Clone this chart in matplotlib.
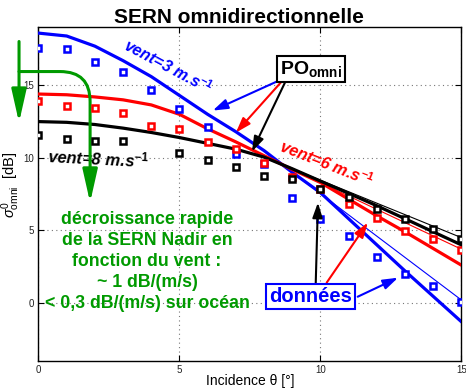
"""
SERN omnidirectionnelle: modele PO_omni (traits) et donnees (carres)
pour trois vitesses de vent.
"""
import matplotlib
matplotlib.use('Agg')
import matplotlib.pyplot as plt
import numpy as np

plt.rcParams.update({
    'font.family': ['Liberation Sans', 'DejaVu Sans'],
    'mathtext.fontset': 'custom',
    'mathtext.rm': 'Liberation Sans',
    'mathtext.it': 'Liberation Sans:italic',
    'mathtext.bf': 'Liberation Sans:bold',
})

# incidence (deg)
theta = np.arange(16)

# modele PO_omni (traits epais)
po_3 = [18.6, 18.4, 17.7, 16.7, 15.6, 14.3, 13.0, 11.8, 10.5, 9.0, 7.6, 5.8, 4.0, 2.2, 0.45, -1.3]
po_6 = [14.4, 14.35, 14.2, 14.0, 13.65, 13.0, 12.0, 11.1, 10.15, 9.2, 8.3, 7.15, 6.0, 4.9, 3.75, 2.6]
po_8 = [12.5, 12.45, 12.3, 12.05, 11.75, 11.4, 11.0, 10.6, 10.05, 9.25, 8.4, 7.55, 6.7, 5.8, 4.9, 4.0]

# traits fins (grandes incidences)
thin_theta = [9, 15]
thin_3 = [9.0, 0.2]
thin_6 = [9.2, 3.7]
thin_8 = [9.25, 4.5]

# donnees (carres)
data_3 = [17.6, 17.5, 16.6, 15.95, 14.7, 13.4, 12.1, 10.3, 9.6, 7.24, 5.81, 4.6, 3.19, 1.97, 1.17, 0.04]
data_6 = [13.9, 13.56, 13.42, 13.08, 12.23, 12.0, 11.08, 10.6, 9.66, 8.7, 7.85, 6.85, 5.86, 4.94, 4.43, 3.68]
data_8 = [11.6, 11.31, 11.19, 11.19, np.nan, 10.34, 9.88, 9.35, 8.78, 8.55, 7.86, 7.28, 6.48, 5.79, 5.12, 4.43]

GREEN = '#009a00'

fig = plt.figure(figsize=(4.66, 3.9), dpi=100)
ax = fig.add_axes([0.0826, 0.0744, 0.9077, 0.8556])

series = [('blue', po_3, thin_3, data_3),
          ('red', po_6, thin_6, data_6),
          ('black', po_8, thin_8, data_8)]
for c, po, thin, dat in series:
    ax.plot(theta, po, color=c, lw=2.3, zorder=3)
    ax.plot(thin_theta, thin, color=c, lw=0.8, zorder=3)
for c, po, thin, dat in series:
    ax.plot(theta, dat, ls='none', marker='s', ms=5.0, mfc='white', mec=c,
            mew=1.8, zorder=4)

ax.set_xlim(0, 15)
ax.set_ylim(-4, 19)
ax.set_xticks([0, 5, 10, 15])
ax.set_yticks([0, 5, 10, 15])
ax.tick_params(direction='in', top=True, right=True, length=4, width=0.8,
               labelsize=7, labelcolor='#222222', pad=3)
ax.grid(True, color='#777777', ls=(0, (1, 3)), lw=0.8)
for s in ax.spines.values():
    s.set_linewidth(1.0)

ax.set_title('SERN omnidirectionnelle', fontsize=15, fontweight='bold', pad=3,
             x=0.475)
ax.set_xlabel('Incidence θ [°]', fontsize=10)
ax.xaxis.set_label_coords(0.5, -0.038)
ax.set_ylabel(r'$\sigma^0_{\mathrm{omni}}$  [dB]', fontsize=10.5)
ax.yaxis.set_label_coords(-0.04, 0.527)

# textes vent
ax.text(4.59, 16.3, r'vent=3 m.s$^{\mathbf{-1}}$', color='blue', fontsize=11.5,
        fontweight='bold', style='italic', rotation=-28, ha='center', va='center',
        rotation_mode='anchor')
ax.text(10.2, 9.6, r'vent=6 m.s$^{\mathbf{-1}}$', color='red', fontsize=11.8,
        fontweight='bold', style='italic', rotation=-21.5, ha='center', va='center',
        rotation_mode='anchor')
ax.text(2.11, 10.0, r'vent=8 m.s$^{\mathbf{-1}}$', color='black', fontsize=12,
        fontweight='bold', style='italic', rotation=-3, ha='center', va='center',
        rotation_mode='anchor')

# PO_omni
ax.text(9.66, 16.15, r'PO$_{\mathbf{omni}}$', fontsize=14, fontweight='bold',
        ha='center', va='center', zorder=6,
        bbox=dict(boxstyle='square,pad=0.15', fc='white', ec='black', lw=1.5))
arrow = dict(arrowstyle='-|>,head_length=0.9,head_width=0.3', lw=1.5,
             mutation_scale=10, shrinkA=0, shrinkB=0)
for c, start, end in [('blue', (8.45, 15.26), (6.18, 13.26)),
                      ('red', (8.59, 15.19), (7.0, 11.74)),
                      ('black', (8.74, 15.19), (7.57, 10.43))]:
    ax.annotate('', xy=end, xytext=start, arrowprops=dict(arrow, color=c), zorder=5)

# donnees
ax.text(9.66, 0.43, 'données', fontsize=14.5, fontweight='bold', color='blue',
        ha='center', va='center', zorder=6,
        bbox=dict(boxstyle='square,pad=0.15', fc='white', ec='blue', lw=1.5))
for c, start, end in [('black', (9.83, 1.26), (9.91, 6.92)),
                      ('red', (10.22, 1.4), (11.68, 5.54)),
                      ('blue', (11.32, 0.43), (12.75, 1.74))]:
    ax.annotate('', xy=end, xytext=start, arrowprops=dict(arrow, color=c), zorder=5)

# fleches vertes
garrow = dict(arrowstyle='-|>,head_length=2.0,head_width=0.45', lw=2.2,
              mutation_scale=10, color=GREEN, shrinkA=0, shrinkB=0)
ax.annotate('', xy=(-0.69, 12.43), xytext=(-0.69, 18.02), arrowprops=garrow,
            annotation_clip=False)
ax.annotate('', xy=(1.83, 6.92), xytext=(-0.69, 15.95),
            arrowprops=dict(garrow, connectionstyle='angle,angleA=0,angleB=90,rad=30'),
            annotation_clip=False)

ax.text(3.85, 2.85, 'décroissance rapide\nde la SERN Nadir en\nfonction du vent :\n'
        '~ 1 dB/(m/s)\n< 0,3 dB/(m/s) sur océan', color=GREEN, fontsize=12.8,
        fontweight='bold', ha='center', va='center', linespacing=1.3, zorder=6)

fig.savefig('out.png', dpi=100)
